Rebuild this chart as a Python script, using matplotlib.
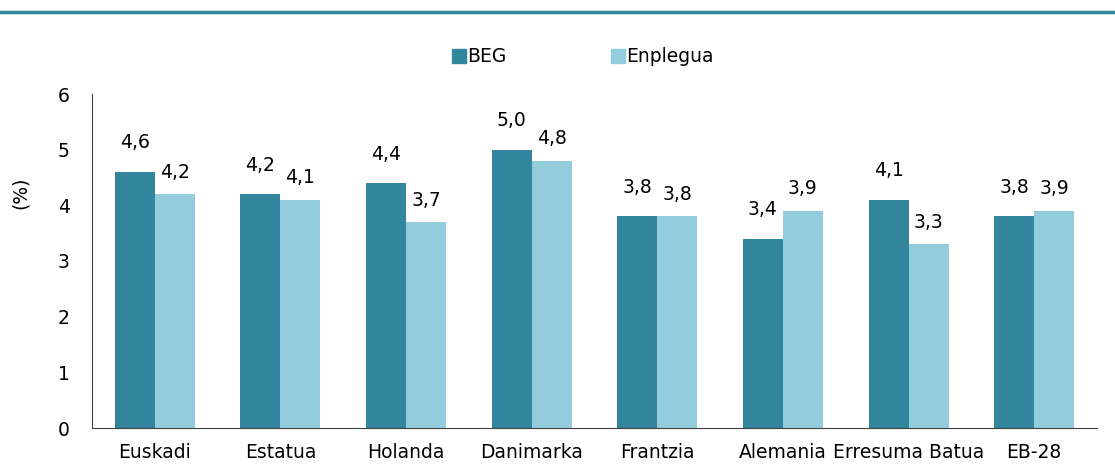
import numpy as np
import matplotlib
matplotlib.use("Agg")
import matplotlib.pyplot as plt
from matplotlib.lines import Line2D

categories = ["Euskadi", "Estatua", "Holanda", "Danimarka", "Frantzia",
              "Alemania", "Erresuma Batua", "EB-28"]
beg = [4.6, 4.2, 4.4, 5.0, 3.8, 3.4, 4.1, 3.8]
enplegua = [4.2, 4.1, 3.7, 4.8, 3.8, 3.9, 3.3, 3.9]
series_names = ["BEG", "Enplegua"]

dark = "#31859C"
light = "#93CDDD"

plt.rcParams["font.family"] = ["DejaVu Sans"]
fs = 13.5

fig = plt.figure(figsize=(11.15, 4.66), dpi=100)
W, H = 1115, 466
ax = fig.add_axes([92 / W, 1 - 428 / H, (1097 - 92) / W, (428 - 94) / H])

x = np.arange(len(categories))
bw = 0.318
ax.bar(x - bw / 2, beg, bw, color=dark)
ax.bar(x + bw / 2, enplegua, bw, color=light)

for xi, v in zip(x, beg):
    ax.annotate(f"{v:.1f}".replace(".", ","), (xi - bw / 2, v), xytext=(0, 14),
                textcoords="offset points", ha="center", va="bottom", fontsize=fs)
for xi, v in zip(x, enplegua):
    ax.annotate(f"{v:.1f}".replace(".", ","), (xi + bw / 2, v), xytext=(0, 9),
                textcoords="offset points", ha="center", va="bottom", fontsize=fs)

ax.set_xlim(-0.5, len(categories) - 0.5)
ax.set_ylim(0, 6)
ax.set_yticks(range(7))
ax.set_xticks(x)
ax.set_xticklabels(categories, fontsize=fs)
ax.tick_params(axis="both", length=0, labelsize=fs)
ax.tick_params(axis="y", pad=16)
ax.tick_params(axis="x", pad=11)
for s in ["top", "right"]:
    ax.spines[s].set_visible(False)
ax.spines["left"].set_color("#404040")
ax.spines["bottom"].set_color("#404040")

fig.text(20 / W, 1 - 193 / H, "(%)", rotation=90, ha="center", va="center", fontsize=fs)

# top rule
fig.add_artist(Line2D([0, 1], [1 - 11.5 / H, 1 - 11.5 / H], color=dark, lw=2.5))

handles = [Line2D([], [], marker="s", ls="", color=c, markersize=10) for c in (dark, light)]
fig.legend(handles, series_names, loc="center", bbox_to_anchor=(583 / W, 1 - 57 / H),
           ncol=2, frameon=False, fontsize=fs, handlelength=0.7, handletextpad=0.1,
           columnspacing=5.6)

fig.savefig("out.png", dpi=100)
